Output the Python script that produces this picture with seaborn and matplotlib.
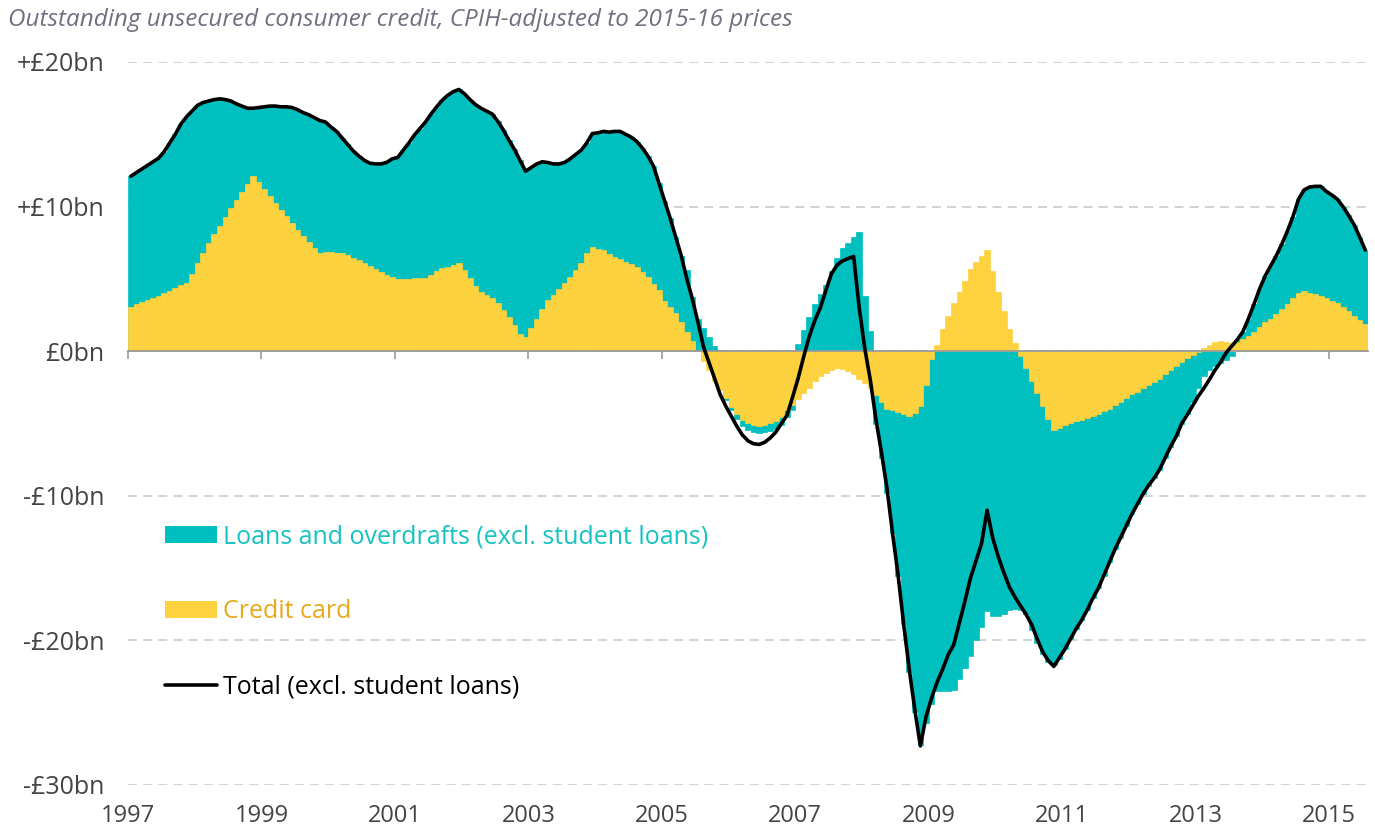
"""
Outstanding unsecured consumer credit, change vs trend (CPIH-adjusted).
Diverging stacked monthly bars with a total line.
"""
import numpy as np
import pandas as pd
import matplotlib.pyplot as plt
import seaborn as sns
from matplotlib.patches import Patch
from matplotlib.lines import Line2D

# === DATA (monthly, Jan 1997 - Jul 2015, £bn) ===
START_YEAR = 1997

CREDIT_CARD = [
    3.07, 3.25, 3.41, 3.53, 3.65, 3.81, 3.99, 4.17, 4.34, 4.57, 4.73, 5.37,
    6.11, 6.76, 7.45, 8.10, 8.67, 9.30, 9.87, 10.45, 10.98, 11.56, 12.13, 11.72,
    11.19, 10.73, 10.22, 9.76, 9.34, 8.84, 8.37, 7.98, 7.52, 7.17, 6.76, 6.83,
    6.87, 6.81, 6.76, 6.67, 6.46, 6.30, 6.11, 5.90, 5.65, 5.47, 5.26, 5.14,
    4.96, 5.00, 5.02, 5.05, 5.05, 5.07, 5.24, 5.55, 5.72, 5.84, 5.96, 6.07,
    5.60, 5.03, 4.50, 4.10, 3.88, 3.65, 3.30, 2.84, 2.33, 1.80, 1.22, 0.95,
    1.57, 2.26, 2.95, 3.53, 3.88, 4.27, 4.73, 5.14, 5.60, 6.10, 6.80, 7.22,
    7.10, 7.00, 6.70, 6.52, 6.40, 6.18, 6.00, 5.79, 5.49, 5.14, 4.64, 4.22,
    3.49, 3.08, 2.66, 1.99, 1.35, 0.71, 0.00, -0.66, -1.33, -2.04, -2.68, -3.27,
    -3.86, -4.34, -4.74, -4.98, -5.12, -5.17, -5.09, -4.98, -4.81, -4.57, -4.10, -3.74,
    -3.32, -2.91, -2.56, -2.09, -1.73, -1.49, -1.33, -1.18, -1.26, -1.37, -1.61, -1.90,
    -2.20, -2.56, -3.03, -3.51, -3.98, -4.10, -4.22, -4.34, -4.45, -4.27, -3.80, -2.32,
    -0.55, 0.40, 1.52, 2.46, 3.32, 4.08, 4.83, 5.66, 6.14, 6.56, 6.97, 5.55,
    4.08, 2.77, 1.52, 0.59, -0.30, -1.18, -2.04, -2.91, -3.82, -4.69, -5.45, -5.28,
    -5.12, -4.98, -4.86, -4.74, -4.64, -4.50, -4.34, -4.17, -3.98, -3.74, -3.51, -3.22,
    -2.99, -2.80, -2.56, -2.32, -2.13, -1.90, -1.61, -1.30, -1.04, -0.76, -0.46, -0.23,
    -0.05, 0.20, 0.42, 0.62, 0.72, 0.65, 0.55, 0.65, 0.85, 1.05, 1.35, 1.70,
    2.00, 2.25, 2.55, 2.90, 3.25, 3.65, 4.00, 4.15, 4.05, 3.95, 3.80, 3.65,
    3.45, 3.30, 3.05, 2.80, 2.45, 2.15, 1.90,
]

LOANS = [
    9.03, 9.10, 9.19, 9.32, 9.45, 9.54, 9.81, 10.23, 10.66, 11.13, 11.47, 11.23,
    10.89, 10.44, 9.85, 9.30, 8.78, 8.10, 7.43, 6.65, 5.97, 5.24, 4.67, 5.13,
    5.71, 6.22, 6.73, 7.14, 7.56, 8.01, 8.33, 8.52, 8.83, 8.98, 9.19, 9.02,
    8.63, 8.39, 7.99, 7.63, 7.39, 7.20, 7.09, 7.10, 7.30, 7.48, 7.79, 8.16,
    8.44, 8.90, 9.38, 9.90, 10.35, 10.78, 11.16, 11.35, 11.63, 11.86, 11.99, 12.03,
    12.20, 12.37, 12.55, 12.70, 12.72, 12.75, 12.60, 12.46, 12.27, 12.15, 11.98, 11.50,
    11.13, 10.69, 10.15, 9.52, 9.07, 8.68, 8.32, 8.16, 8.00, 7.80, 7.60, 7.83,
    8.00, 8.20, 8.45, 8.68, 8.80, 8.82, 8.80, 8.71, 8.56, 8.36, 8.16, 7.38,
    6.91, 6.12, 5.24, 4.61, 4.25, 3.05, 2.26, 1.57, 0.95, 0.35, 0.10, -0.10,
    -0.20, -0.35, -0.45, -0.50, -0.50, -0.50, -0.50, -0.55, -0.60, -0.55, -0.45, -0.30,
    0.47, 1.47, 2.37, 3.25, 3.96, 4.56, 5.55, 6.45, 7.12, 7.45, 7.88, 8.23,
    3.80, 1.42, -2.00, -3.90, -5.80, -8.50, -11.30, -14.55, -17.75, -20.70, -23.40, -23.40,
    -23.85, -23.50, -23.50, -23.50, -23.40, -22.70, -21.90, -21.10, -20.00, -19.10, -18.00, -18.30,
    -18.30, -18.20, -17.90, -17.80, -17.60, -17.00, -17.26, -17.30, -17.10, -16.80, -16.25, -16.00,
    -15.50, -14.90, -14.35, -13.85, -13.25, -12.60, -12.05, -11.35, -10.60, -9.95, -9.40, -8.90,
    -8.30, -7.80, -7.35, -7.00, -6.65, -6.30, -5.80, -5.30, -4.85, -4.25, -3.90, -3.30,
    -2.50, -1.70, -1.30, -1.00, -0.80, -0.60, -0.30, 0.15, 0.50, 1.20, 1.90, 2.60,
    3.20, 3.65, 4.05, 4.50, 5.05, 5.65, 6.50, 7.00, 7.30, 7.45, 7.60, 7.40,
    7.35, 7.20, 6.95, 6.60, 6.30, 5.75, 5.10,
]

TOTAL = [
    12.10, 12.35, 12.60, 12.85, 13.10, 13.35, 13.80, 14.40, 15.00, 15.70, 16.20, 16.60,
    17.00, 17.20, 17.30, 17.40, 17.45, 17.40, 17.30, 17.10, 16.95, 16.80, 16.80, 16.85,
    16.90, 16.95, 16.95, 16.90, 16.90, 16.85, 16.70, 16.50, 16.35, 16.15, 15.95, 15.85,
    15.50, 15.20, 14.75, 14.30, 13.85, 13.50, 13.20, 13.00, 12.95, 12.95, 13.05, 13.30,
    13.40, 13.90, 14.40, 14.95, 15.40, 15.85, 16.40, 16.90, 17.35, 17.70, 17.95, 18.10,
    17.80, 17.40, 17.05, 16.80, 16.60, 16.40, 15.90, 15.30, 14.60, 13.95, 13.20, 12.45,
    12.70, 12.95, 13.10, 13.05, 12.95, 12.95, 13.05, 13.30, 13.60, 13.90, 14.40, 15.05,
    15.10, 15.20, 15.15, 15.20, 15.20, 15.00, 14.80, 14.50, 14.05, 13.50, 12.80, 11.60,
    10.40, 9.20, 7.90, 6.60, 5.00, 3.60, 2.00, 0.30, -0.80, -1.90, -3.00, -3.80,
    -4.50, -5.20, -5.80, -6.20, -6.40, -6.45, -6.30, -6.00, -5.60, -5.00, -4.45, -3.20,
    -1.90, -0.40, 1.00, 2.10, 3.00, 4.20, 5.35, 5.95, 6.25, 6.40, 6.55, 3.00,
    0.20, -2.00, -4.70, -7.00, -9.50, -12.60, -15.50, -18.90, -22.00, -24.80, -27.30, -25.30,
    -24.00, -22.90, -22.00, -21.00, -20.30, -18.80, -17.30, -15.70, -14.50, -13.30, -11.00, -12.90,
    -14.20, -15.30, -16.30, -17.00, -17.60, -18.20, -18.90, -19.90, -20.80, -21.40, -21.80, -21.20,
    -20.60, -19.90, -19.20, -18.60, -17.90, -17.10, -16.40, -15.50, -14.60, -13.70, -12.90, -12.10,
    -11.30, -10.60, -9.90, -9.30, -8.80, -8.20, -7.40, -6.60, -5.90, -5.00, -4.40, -3.75,
    -3.10, -2.55, -1.95, -1.30, -0.75, -0.10, 0.35, 0.80, 1.35, 2.25, 3.25, 4.30,
    5.20, 5.90, 6.60, 7.40, 8.30, 9.30, 10.50, 11.15, 11.35, 11.40, 11.40, 11.05,
    10.80, 10.50, 10.00, 9.40, 8.75, 7.90, 7.00,
]

YEAR_TICKS = list(range(1997, 2016, 2))
Y_TICKS = [-30, -20, -10, 0, 10, 20]
Y_LABELS = ["-£30bn", "-£20bn", "-£10bn", "£0bn", "+£10bn", "+£20bn"]

TITLE = "Outstanding unsecured consumer credit, CPIH-adjusted to 2015-16 prices"
LABEL_LOANS = "Loans and overdrafts (excl. student loans)"
LABEL_CARD = "Credit card"
LABEL_TOTAL = "Total (excl. student loans)"

# === STYLE ===
TEAL = "#00BFBF"
YELLOW = "#FED23E"
TEAL_TEXT = "#16C2C2"
GOLD_TEXT = "#E6A91D"
TEXT_GREY = "#444444"
TITLE_GREY = "#6E7080"


def build_frame():
    months = np.arange(len(CREDIT_CARD))
    df = pd.DataFrame({
        "x": START_YEAR + (months + 0.5) / 12,
        "cc": CREDIT_CARD,
        "loans": LOANS,
        "total": TOTAL,
    })
    # diverging stack: same-sign parts pile up, opposite signs start at zero
    same_sign = np.sign(df["cc"]) == np.sign(df["loans"])
    df["teal_end"] = np.where(same_sign, df["cc"] + df["loans"], df["loans"])
    return df


def main():
    df = build_frame()

    sns.set_theme(style="white")
    plt.rcParams["font.family"] = ["Open Sans", "DejaVu Sans"]

    fig = plt.figure(figsize=(13.75, 8.32), dpi=100)
    ax = fig.add_axes([0.0931, 0.0565, 0.9018, 0.869])

    sns.barplot(data=df, x="x", y="teal_end", native_scale=True, orient="x",
                width=1.0, color=TEAL, saturation=1, errorbar=None,
                edgecolor=TEAL, linewidth=0.5, ax=ax)
    sns.barplot(data=df, x="x", y="cc", native_scale=True, orient="x",
                width=1.0, color=YELLOW, saturation=1, errorbar=None,
                edgecolor=YELLOW, linewidth=0.5, ax=ax)
    sns.lineplot(data=df, x="x", y="total", color="black", linewidth=2.6,
                 errorbar=None, ax=ax, zorder=4,
                 solid_joinstyle="round", solid_capstyle="round")

    n = len(CREDIT_CARD)
    ax.set_xlim(START_YEAR, START_YEAR + n / 12)
    ax.set_ylim(-30, 20)
    ax.set(xlabel="", ylabel="")

    # y axis
    ax.set_yticks(Y_TICKS)
    ax.set_yticklabels(Y_LABELS)
    ax.tick_params(axis="y", length=0, pad=17, labelsize=18, labelcolor=TEXT_GREY)
    ax.set_axisbelow(True)
    ax.yaxis.grid(True, linestyle=(0, (5, 3.4)), color="#cfcfcf", linewidth=1.3)
    ax.xaxis.grid(False)

    for side in ["left", "right", "top"]:
        ax.spines[side].set_visible(False)

    # zero line with small ticks
    ax.spines["bottom"].set_position(("data", 0))
    ax.spines["bottom"].set_color("#9a9a9a")
    ax.spines["bottom"].set_linewidth(1.3)
    ax.spines["bottom"].set_zorder(3)
    ax.set_xticks(YEAR_TICKS)
    ax.tick_params(axis="x", direction="out", length=6, width=1.2,
                   color="#9a9a9a", labelbottom=False, bottom=True)

    # year labels along the bottom
    sec = ax.secondary_xaxis("bottom")
    sec.set_xticks(YEAR_TICKS)
    sec.set_xticklabels([str(y) for y in YEAR_TICKS])
    sec.spines["bottom"].set_visible(False)
    sec.tick_params(length=0, pad=14, labelsize=17, labelcolor=TEXT_GREY)

    fig.text(0.006, 0.976, TITLE, fontsize=17.5, style="italic",
             color=TITLE_GREY, ha="left", va="center")

    handles = [
        Patch(facecolor=TEAL, edgecolor="none"),
        Patch(facecolor=YELLOW, edgecolor="none"),
        Line2D([0], [0], color="black", linewidth=2.6),
    ]
    ax.legend(handles, [LABEL_LOANS, LABEL_CARD, LABEL_TOTAL],
              loc="upper left", bbox_to_anchor=(0.0298, 0.3607),
              frameon=False, fontsize=18, handlelength=2.1, handleheight=0.66,
              handletextpad=0.24, labelspacing=2.0, borderpad=0,
              borderaxespad=0, labelcolor=[TEAL_TEXT, GOLD_TEXT, "black"])

    fig.savefig("out.png", dpi=100)
    plt.close(fig)


if __name__ == "__main__":
    main()
